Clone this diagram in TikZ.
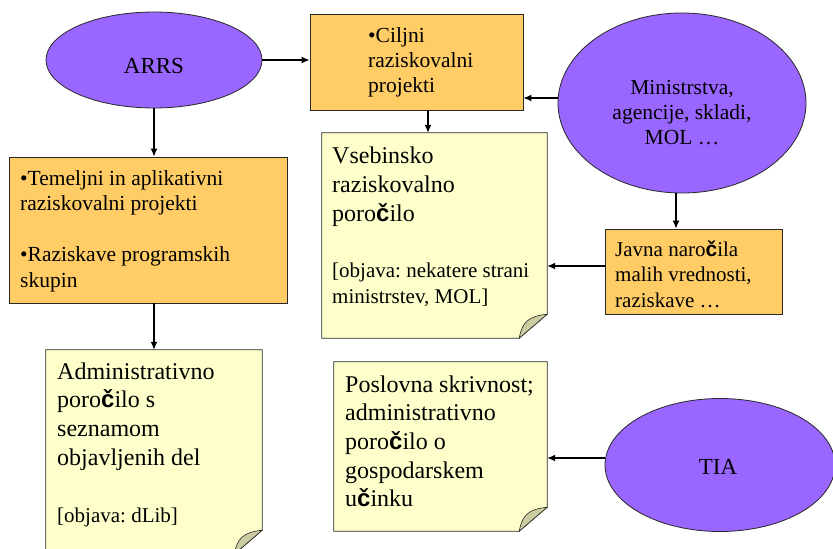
\documentclass[tikz,border=0pt]{standalone}
\usepackage{fontspec}
\setmainfont{Liberation Serif}
\newfontfamily\czfont{Liberation Sans}
\usetikzlibrary{shapes.geometric,arrows.meta,calc}
\newcommand\cz{{\czfont\bfseries č}}
\frenchspacing
\definecolor{purp}{RGB}{153,102,255}
\definecolor{orng}{RGB}{255,204,102}
\definecolor{notey}{RGB}{255,255,204}
\definecolor{foldc}{RGB}{204,204,160}
\definecolor{edgec}{RGB}{40,40,40}
\newcommand\drawdoc[1]{%
  \draw[docline] (#1.north west) -- (#1.north east) -- ($(#1.south east)+(0,-24)$)
    -- ($(#1.south east)+(-28,0)$) -- (#1.south west) -- cycle;
  \draw[foldline] ($(#1.south east)+(-28,0)$) .. controls ($(#1.south east)+(-25,-16)$) and ($(#1.south east)+(-19,-22)$) .. ($(#1.south east)+(0,-24)$) -- cycle;}
\begin{document}
\frenchspacing
\begin{tikzpicture}[x=1pt,y=-1pt,
  oval/.style={ellipse,draw=edgec,line width=0.8pt,fill=purp,inner sep=0pt},
  obox/.style={rectangle,draw=edgec,line width=0.8pt,fill=orng,inner sep=0pt},
  docarea/.style={rectangle,inner sep=0pt},
  docline/.style={draw=edgec,line width=0.8pt,fill=notey},
  foldline/.style={draw=edgec,line width=0.6pt,fill=foldc},
  arr/.style={line width=1.3pt,-{Latex[length=8pt,width=7pt]}},
  txt/.style={inner sep=0pt,align=left,anchor=north west},
  fs/.style 2 args={font=\fontsize{#1}{#2}\selectfont\frenchspacing},
]
\useasboundingbox (0,0) rectangle (833,549);
\clip (0,0) rectangle (833,549);
% shapes
\node[oval,minimum width=216pt,minimum height=96pt] (arrs) at (154,60) {};
\node[oval,minimum width=248pt,minimum height=180pt] (min) at (682,103) {};
\node[oval,minimum width=230pt,minimum height=133pt] (tia) at (720,465) {};
\node[obox,minimum width=213pt,minimum height=96pt] (cilj) at (416.5,62) {};
\node[obox,minimum width=278pt,minimum height=146pt] (tem) at (148,230) {};
\node[obox,minimum width=177pt,minimum height=85pt] (javna) at (693.5,271.5) {};
\node[docarea,minimum width=225pt,minimum height=205pt] (vseb) at (434.5,235.5) {};
\node[docarea,minimum width=213pt,minimum height=169pt] (pos) at (440.5,446.5) {};
\node[docarea,minimum width=216pt,minimum height=204pt] (adm) at (154,452) {};
\drawdoc{vseb}
\drawdoc{pos}
\drawdoc{adm}
% texts
\node[inner sep=0pt,anchor=base,fs={23}{27}] (arrsT) at (154,73) {ARRS};
\node[inner sep=0pt,anchor=base,fs={23}{27}] (tiaT) at (718,474) {TIA};
\node[inner sep=0pt,align=center,anchor=north,fs={21.5}{25.3}] (minT) at (682,76.3) {\strut Ministrstva,\\agencije, skladi,\\MOL …};
\node[txt,fs={21.5}{25}] (ciljT) at (368,24.5) {\strut •Ciljni\\raziskovalni\\projekti};
\node[txt,fs={21.5}{25.5}] (temT) at (20,167.15) {\strut •Temeljni in aplikativni\\raziskovalni projekti\\[25.5pt]•Raziskave programskih\\skupin};
\node[txt,fs={24}{29}] (vsebT) at (332,142.7) {\strut Vsebinsko\\raziskovalno\\poro\cz ilo};
\node[txt,fs={21}{26}] (vsebO) at (332,258.8) {\strut [objava: nekatere strani\\ministrstev, MOL]};
\node[txt,fs={21}{25.5}] (javnaT) at (615,238.15) {\strut Javna naro\cz ila\\malih vrednosti,\\raziskave …};
\node[txt,fs={24}{28.7}] (admT) at (57,358.9) {\strut Administrativno\\poro\cz ilo s\\seznamom\\objavljenih del};
\node[inner sep=0pt,anchor=base west,fs={21}{25}] (admO) at (57,522) {[objava: dLib]};
\node[txt,fs={24}{28.7}] (posT) at (345,371.9) {\strut Poslovna skrivnost;\\administrativno\\poro\cz ilo o\\gospodarskem\\u\cz inku};
% connectors
\draw[arr] (arrs.east) -- (arrs.east -| cilj.west);
\draw[arr] ([yshift=5pt]min.west) -- ([yshift=5pt]min.west -| cilj.east);
\draw[arr] ([xshift=11.5pt]cilj.south) -- ([xshift=11.5pt]cilj.south |- vseb.north);
\draw[arr] ([xshift=-6pt]min.south) -- ([xshift=-6pt]min.south |- javna.north);
\draw[arr] ([yshift=5.5pt]javna.west) -- ([yshift=5.5pt]javna.west -| vseb.east);
\draw[arr] ([yshift=7pt]tia.west) -- ([yshift=7pt]tia.west -| pos.east);
\draw[arr] (arrs.south) -- (arrs.south |- tem.north);
\draw[arr] (adm.north |- tem.south) -- (adm.north);
\end{tikzpicture}
\end{document}
